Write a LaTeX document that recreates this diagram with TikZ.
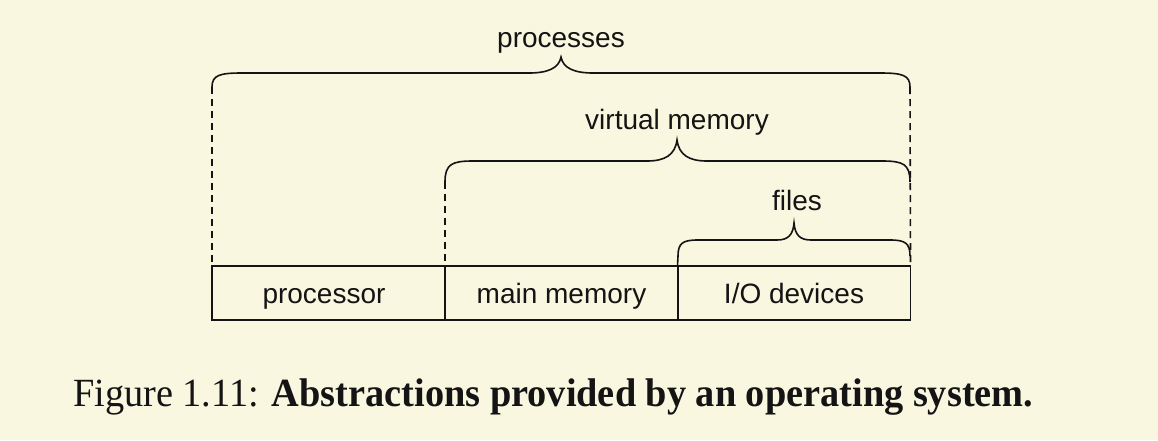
\documentclass[tikz,border=0pt]{standalone}
\usepackage{fontspec}
\setmainfont{Liberation Serif}
\setsansfont{Liberation Sans}
\usetikzlibrary{calc}
\definecolor{bgc}{RGB}{249,247,224}
\definecolor{ink}{RGB}{20,20,20}
\tikzset{
  unit/.style={draw=ink, line width=1.6pt, minimum height=54pt, minimum width=233pt, inner sep=0pt, outer sep=0pt},
  lbl/.style={font=\sffamily\fontsize{28}{32}\selectfont, text=ink, inner sep=0pt, anchor=base},
  bracepath/.style={draw=ink, line width=1.6pt},
  guide/.style={draw=ink, line width=1.6pt, dash pattern=on 7pt off 5pt},
}
\begin{document}
\begin{tikzpicture}[x=1pt,y=-1pt]
\fill[bgc] (0,0) rectangle (1158,440);
\useasboundingbox (0,0) rectangle (1158,440);
% boxes
\node[unit] (proc) at (328.5,293) {};
\node[unit] (mem) at (561.5,293) {};
\node[unit] (io) at (794,293) {};
\node[lbl] (proct) at (324,303) {processor};
\node[lbl] (memt) at (561.5,303) {main memory};
\node[lbl] (iot) at (794,303) {I/O devices};
% brace end coordinates
\coordinate (pL) at (212,87);
\coordinate (pR) at (910,87);
\coordinate (vL) at (445,182);
\coordinate (vR) at (910,182);
\coordinate (fL) at (678,256);
\coordinate (fR) at (910,256);
\coordinate (pT) at (561,57);
\coordinate (vT) at (677,140);
\coordinate (fT) at (794,223);
% dashed guides
\draw[guide] (pL) -- (proc.north west);
\draw[guide] (pR) -- (io.north east);
\draw[guide] (vL) -- (mem.north west);
% processes brace (line y=73)
\draw[bracepath] (pL) .. controls (212,75) and (220,73) .. (242,73) -- (529,73)
  .. controls (548,73) and (559,68) .. (pT)
  .. controls (563,68) and (574,73) .. (593,73) -- (880,73)
  .. controls (902,73) and (910,75) .. (pR);
% virtual memory brace (line y=161)
\draw[bracepath] (vL) .. controls (445,164) and (452,161) .. (473,161) -- (647,161)
  .. controls (665,161) and (675,155) .. (vT)
  .. controls (679,155) and (689,161) .. (707,161) -- (882,161)
  .. controls (903,161) and (910,164) .. (vR);
% files brace (line y=240)
\draw[bracepath] (fL) .. controls (678,243) and (683,240) .. (698,240) -- (777,240)
  .. controls (788,240) and (793,235) .. (fT)
  .. controls (795,235) and (800,240) .. (811,240) -- (890,240)
  .. controls (905,240) and (910,243) .. (fR);
\draw[bracepath] (fL) -- (io.north west);
% labels
\node[lbl] (pt) at ($(pT)+(0,-10)$) {processes};
\node[lbl] (vt) at ($(vT)+(0,-11)$) {virtual memory};
\node[lbl] (ft) at ($(fT)+(3,-13)$) {files};
% caption
\node[anchor=base west, inner sep=0pt, text=ink, font=\fontsize{40}{44}\selectfont] (cap) at (73,406)
  {\scalebox{0.958}[1]{Figure 1.11: \textbf{Abstractions provided by an operating system.}}};
\end{tikzpicture}
\end{document}
